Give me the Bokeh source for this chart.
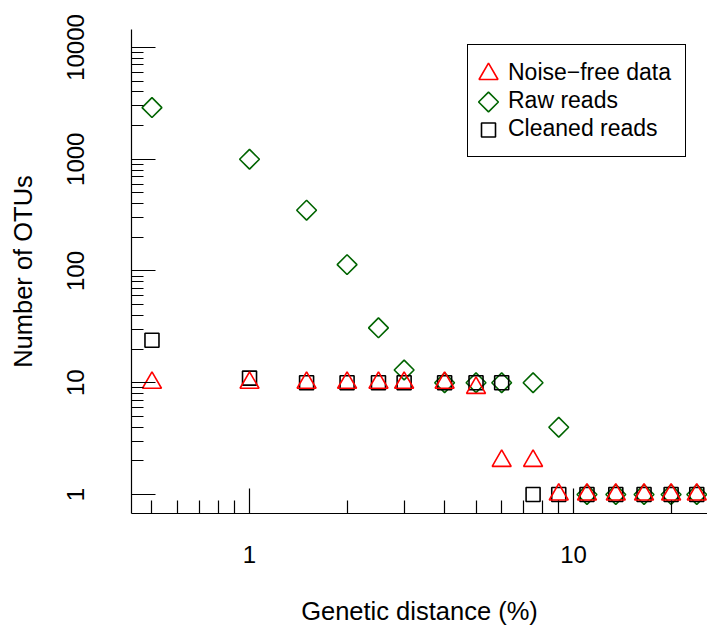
import numpy as np
from bokeh.plotting import figure
from bokeh.models import (Range1d, FixedTicker, NumeralTickFormatter, Legend,
                          LegendItem, LinearScale)
from bokeh.embed import file_html
from bokeh.resources import INLINE

# ---- data ----
distance = [0.5, 1, 1.5, 2, 2.5, 3, 4, 5, 6, 7.5, 9, 11, 13.5, 16.5, 20, 24]
noise_free = [10, 10, 10, 10, 10, 10, 10, 9, 2, 2, 1, 1, 1, 1, 1, 1]
raw_reads = [2900, 1000, 350, 114, 31, 13, 10, 10, 10, 10, 4, 1, 1, 1, 1, 1]
cleaned_reads = [24, 11, 10, 10, 10, 10, 10, 10, 10, 1, 1, 1, 1, 1, 1, 1]

series_names = ["Noise\u2212free data", "Raw reads", "Cleaned reads"]
x_major = [1, 10]
y_major = [1, 10, 100, 1000, 10000]

FONT = "Liberation Sans"
RED = "#FF0000"
GREEN = "#006400"

x_minor = [m * 10.0 ** e for e in (-1, 0, 1) for m in range(2, 10)]
y_minor = [m * 10.0 ** e for e in (0, 1, 2, 3) for m in range(2, 10)]

W, H = 707, 639
BL, BR, BT, BB = 131, 0, 29, 126
FRAME_W, FRAME_H = W - BL - BR, H - BT - BB

p = figure(width=W, height=H, x_axis_type="log", y_axis_type="log",
           x_range=Range1d(0.4323, 25.9), y_range=Range1d(0.676, 14490),
           output_backend="svg", toolbar_location=None,
           min_border_left=BL, min_border_right=BR, min_border_top=BT,
           min_border_bottom=BB)
p.outline_line_color = None
p.xgrid.visible = False
p.ygrid.visible = False

# pixel space of the frame, used only to place the legend keys
p.extra_x_ranges = {"key": Range1d(0, FRAME_W)}
p.extra_y_ranges = {"key": Range1d(0, FRAME_H)}
p.extra_x_scales = {"key": LinearScale()}
p.extra_y_scales = {"key": LinearScale()}

styles = [  # marker, size, angle, colour  (Noise-free, Raw, Cleaned)
    ("triangle", 19, 0.0, RED),
    ("square", 14, np.pi / 4, GREEN),
    ("square", 14, 0.0, "black"),
]
series_values = [noise_free, raw_reads, cleaned_reads]

# draw order: raw, cleaned, noise-free on top
for idx in (1, 2, 0):
    mk, sz, ang, col = styles[idx]
    p.scatter(distance, series_values[idx], marker=mk, size=sz, angle=ang,
              fill_color=None, line_color=col, line_width=1.6)

# axes
p.xaxis.ticker = FixedTicker(ticks=x_major, minor_ticks=x_minor)
p.yaxis.ticker = FixedTicker(ticks=y_major, minor_ticks=y_minor)
for ax in (p.xaxis, p.yaxis):
    ax.formatter = NumeralTickFormatter(format="0")
    ax.axis_line_color = "black"
    ax.axis_line_width = 1.2
    ax.major_tick_line_color = "black"
    ax.minor_tick_line_color = "black"
    ax.major_tick_line_width = 1.2
    ax.minor_tick_line_width = 1.2
    ax.major_tick_out = 0
    ax.minor_tick_out = 0
    ax.major_label_text_font = FONT
    ax.major_label_text_font_size = "24px"
    ax.major_label_text_color = "black"
    ax.axis_label_text_font = FONT
    ax.axis_label_text_font_size = "25.5px"
    ax.axis_label_text_font_style = "normal"
    ax.axis_label_text_color = "black"

p.xaxis.axis_label = "Genetic distance (%)"
p.xaxis.major_tick_in = 25
p.xaxis.minor_tick_in = 13
p.xaxis.major_label_standoff = 32
p.xaxis.axis_label_standoff = 31

p.yaxis.axis_label = "Number of OTUs"
p.yaxis.major_tick_in = 24
p.yaxis.minor_tick_in = 12
p.yaxis.major_label_orientation = "vertical"
p.yaxis.major_label_standoff = 47
p.yaxis.axis_label_standoff = 28

# legend (frame pixel coordinates, y up)
LEG_LEFT, LEG_BOTTOM = 336, 356
PAD, ROW_H, GAP = 14, 27, 1
LEG_TOP = LEG_BOTTOM + 2 * PAD + 3 * ROW_H + 2 * GAP
legend = Legend(items=[LegendItem(label=n, renderers=[]) for n in series_names],
                location=(LEG_LEFT, LEG_BOTTOM), padding=PAD, spacing=GAP,
                margin=0, glyph_width=20, glyph_height=20, label_height=ROW_H,
                label_standoff=6, border_line_color="black",
                border_line_width=1.2, border_line_alpha=1.0,
                background_fill_color=None, background_fill_alpha=0,
                label_text_font=FONT, label_text_font_size="23px",
                label_text_color="black")
p.add_layout(legend, "center")

# legend keys, one per row
for i, (mk, sz, ang, col) in enumerate(styles):
    kx = LEG_LEFT + 21
    ky = LEG_TOP - PAD - ROW_H / 2 - i * (ROW_H + GAP)
    p.scatter([kx], [ky], marker=mk, size=sz, angle=ang, fill_color=None,
              line_color=col, line_width=1.6, x_range_name="key",
              y_range_name="key", level="overlay")

open("out.html", "w").write(file_html(p, INLINE))
